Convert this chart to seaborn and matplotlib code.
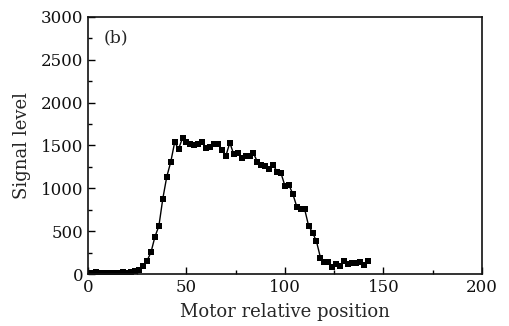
import numpy as np
import pandas as pd
import matplotlib
matplotlib.use("Agg")
from matplotlib import pyplot as plt
from matplotlib.ticker import MultipleLocator
import seaborn as sns

# values, one point every 2 motor steps
position = list(range(0, 144, 2))
signal = [10, 15, 20, 15, 12, 15, 12, 10, 15, 25, 15, 20, 30,
          50, 95, 155, 255, 435, 560, 880, 1135, 1305, 1535, 1460, 1585,
          1545, 1520, 1505, 1515, 1535, 1475, 1485, 1513, 1513, 1447, 1377,
          1532, 1396, 1416, 1350, 1377, 1377, 1408, 1310, 1272, 1260, 1221,
          1272, 1194, 1175, 1027, 1039, 933, 785, 758, 755, 562, 484, 380,
          192, 145, 138, 80, 113, 93, 155, 117, 132, 132, 144, 105, 155]

df = pd.DataFrame({"position": position, "signal": signal})

sns.set_style("ticks")
plt.rcParams['font.family'] = ['DejaVu Serif']

fig = plt.figure(figsize=(5.1, 3.26), dpi=100)
ax = fig.add_axes([0.1725, 0.1595, 0.7725, 0.789])

sns.lineplot(data=df, x="position", y="signal", ax=ax, color="black",
             linewidth=1.0, marker="s", markersize=4.6, markeredgewidth=0)

ax.set_xlim(0, 200)
ax.set_ylim(0, 3000)
ax.xaxis.set_major_locator(MultipleLocator(50))
ax.xaxis.set_minor_locator(MultipleLocator(25))
ax.yaxis.set_major_locator(MultipleLocator(500))
ax.yaxis.set_minor_locator(MultipleLocator(250))
ax.tick_params(which="both", direction="in", labelsize=12, color="black",
               labelcolor="#111111")
ax.tick_params(which="major", length=5, width=1)
ax.tick_params(which="minor", length=3, width=1)
for s in ax.spines.values():
    s.set_linewidth(1.2)
    s.set_color("#111111")

ax.set_xlabel("Motor relative position", fontsize=13, labelpad=5)
ax.set_ylabel("Signal level", fontsize=13, labelpad=7)
ax.text(0.04, 0.9, "(b)", transform=ax.transAxes, fontsize=12.5)

fig.savefig("out.png", dpi=100)
